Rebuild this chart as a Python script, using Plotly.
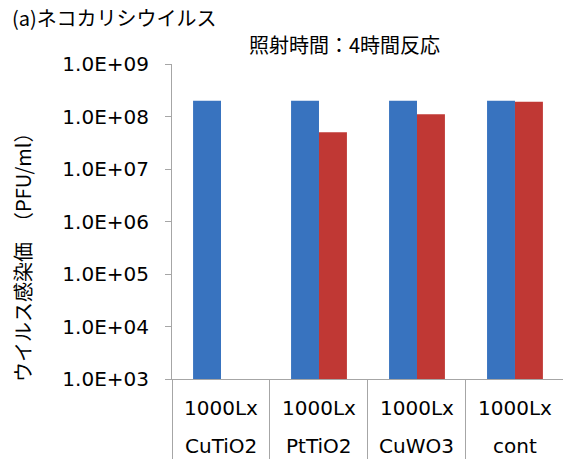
import plotly.graph_objects as go

# data
materials = ["CuTiO2", "PtTiO2", "CuWO3", "cont"]
light = ["1000Lx", "1000Lx", "1000Lx", "1000Lx"]
before = [2.0e8, 2.0e8, 2.0e8, 2.0e8]     # blue bars
after = [None, 5.0e7, 1.1e8, 1.9e8]       # red bars (CuTiO2 below detection)
tick_vals = [1e3, 1e4, 1e5, 1e6, 1e7, 1e8, 1e9]
tick_text = ["1.0E+03", "1.0E+04", "1.0E+05", "1.0E+06", "1.0E+07", "1.0E+08", "1.0E+09"]

jp = "Noto Sans CJK JP"
latin = "DejaVu Sans"
grey = "#A6A6A6"

W, H = 563, 459
L, R, T, B = 172, 0, 64, 80
pw, ph = W - L - R, H - T - B

fig = go.Figure()
fig.add_trace(go.Bar(x=materials, y=before, marker=dict(color="#3873BF", line=dict(width=0))))
fig.add_trace(go.Bar(x=materials, y=after, marker=dict(color="#C03834", line=dict(width=0))))

fig.update_layout(
    width=W, height=H,
    margin=dict(l=L, r=R, t=T, b=B, autoexpand=False),
    paper_bgcolor="white", plot_bgcolor="white",
    barmode="group", bargap=0.43, bargroupgap=0,
    showlegend=False,
    font=dict(family=latin, size=20, color="black"),
)

fig.update_yaxes(
    type="log", range=[3, 9], automargin=False,
    tickvals=tick_vals, ticktext=tick_text,
    showgrid=False, zeroline=False,
    showline=True, linecolor=grey, linewidth=1,
    ticks="outside", ticklen=6, tickcolor=grey,
    ticklabelstandoff=12,
    tickfont=dict(family=latin, size=20),
)
# category boundaries drawn as long outside ticks (the divider lines)
fig.update_xaxes(
    type="category", range=[-0.5, 3.49], automargin=False,
    showgrid=False, showticklabels=False,
    showline=True, linecolor=grey, linewidth=1,
    ticks="outside", tickson="boundaries", ticklen=B, tickcolor=grey, tickwidth=1,
)

for m, lx in zip(materials, light):
    fig.add_annotation(text=lx, x=m, xref="x", y=(379 - 408) / ph, yref="paper",
                       yanchor="middle", showarrow=False, font=dict(family=latin, size=20))
    fig.add_annotation(text=m, x=m, xref="x", y=(379 - 446) / ph, yref="paper",
                       yanchor="middle", showarrow=False, font=dict(family=latin, size=20))

fig.add_annotation(
    text="(a)ネコカリシウイルス", xref="paper", yref="paper",
    x=(10 - L) / pw, y=1 + 47 / ph, xanchor="left", yanchor="middle",
    showarrow=False, font=dict(family=jp, size=20),
)
fig.add_annotation(
    text="照射時間：4時間反応", xref="paper", yref="paper",
    x=(344 - L) / pw, y=1 + 20 / ph, xanchor="center", yanchor="middle",
    showarrow=False, font=dict(family=jp, size=20),
)
fig.add_annotation(
    text="ウイルス感染価　（PFU/ml）", xref="paper", yref="paper",
    x=(22 - L) / pw, y=(379 - 253) / ph, xanchor="center", yanchor="middle",
    textangle=-90, showarrow=False, font=dict(family=jp, size=20),
)

# drop the default page margin so the figure sits at the window's corner
fig.write_html("out.html", config={"displayModeBar": False},
               post_script="document.body.style.margin='0px';")
